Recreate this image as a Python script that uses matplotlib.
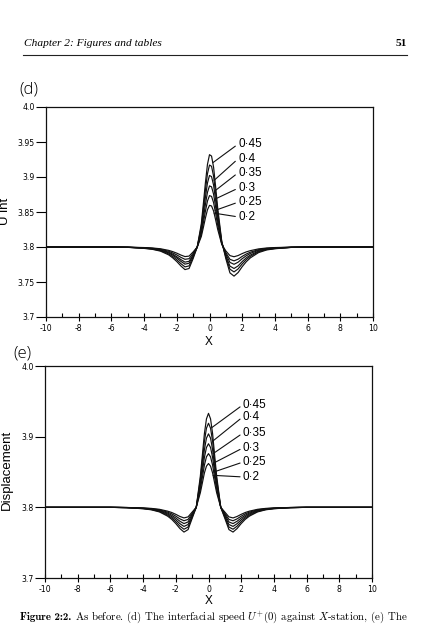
import matplotlib
matplotlib.use('Agg')
import matplotlib.pyplot as plt
import numpy as np

plt.rcParams['mathtext.fontset'] = 'cm'

# ---------------- data ----------------
x_knots = [-10, -6, -5, -4, -3.5, -3, -2.5, -2.25, -2, -1.75, -1.5, -1.25, -1, -0.75,
           -0.5, -0.375, -0.25, -0.125, 0, 0.125, 0.25, 0.375, 0.5,
           0.75, 1, 1.25, 1.5, 1.75, 2, 2.25, 2.5, 3, 3.5, 4, 5, 6, 10]

param_labels = ['0·2', '0·25', '0·3', '0·35', '0·4', '0·45']

# panel (d): U int
d_020 = [3.8, 3.8,
         3.7998, 3.7992, 3.7986, 3.7975, 3.7952, 3.7934, 3.7912, 3.7885, 3.7863, 3.7870, 3.7930, 3.8,
         3.8150, 3.8280, 3.8414, 3.8532, 3.8595, 3.8586, 3.8514, 3.8388, 3.8253,
         3.8036, 3.7944, 3.7877, 3.7861, 3.7878, 3.7906, 3.7930, 3.7948, 3.7973, 3.7986, 3.7992, 3.7998,
         3.8, 3.8]
d_025 = [3.8, 3.8,
         3.7997, 3.7989, 3.7982, 3.7968, 3.7939, 3.7915, 3.7887, 3.7852, 3.7824, 3.7833, 3.7910, 3.8,
         3.8185, 3.8345, 3.8511, 3.8656, 3.8734, 3.8723, 3.8634, 3.8479, 3.8312,
         3.8044, 3.7920, 3.7824, 3.7802, 3.7826, 3.7866, 3.7900, 3.7926, 3.7962, 3.7980, 3.7988, 3.7997,
         3.8, 3.8]
d_030 = [3.8, 3.8,
         3.7997, 3.7987, 3.7978, 3.7960, 3.7925, 3.7897, 3.7861, 3.7820, 3.7784, 3.7795, 3.7890, 3.8,
         3.8220, 3.8410, 3.8607, 3.8781, 3.8873, 3.8860, 3.8754, 3.8569, 3.8370,
         3.8053, 3.7900, 3.7780, 3.7753, 3.7783, 3.7833, 3.7875, 3.7908, 3.7953, 3.7975, 3.7985, 3.7996,
         3.8, 3.8]
d_035 = [3.8, 3.8,
         3.7996, 3.7985, 3.7975, 3.7955, 3.7915, 3.7883, 3.7843, 3.7795, 3.7755, 3.7768, 3.7875, 3.8,
         3.8258, 3.8480, 3.8711, 3.8914, 3.9022, 3.9006, 3.8883, 3.8666, 3.8434,
         3.8062, 3.7876, 3.7727, 3.7693, 3.7730, 3.7792, 3.7845, 3.7885, 3.7941, 3.7969, 3.7981, 3.7995,
         3.8, 3.8]
d_040 = [3.8, 3.8,
         3.7996, 3.7983, 3.7971, 3.7948, 3.7901, 3.7864, 3.7817, 3.7762, 3.7716, 3.7730, 3.7855, 3.8,
         3.8295, 3.8550, 3.8814, 3.9047, 3.9171, 3.9153, 3.9011, 3.8763, 3.8497,
         3.8071, 3.7856, 3.7683, 3.7644, 3.7687, 3.7759, 3.7820, 3.7867, 3.7932, 3.7964, 3.7978, 3.7995,
         3.8, 3.8]
d_045 = [3.8, 3.8,
         3.7995, 3.7980, 3.7967, 3.7941, 3.7888, 3.7845, 3.7792, 3.7729, 3.7677, 3.7693, 3.7835, 3.8,
         3.8333, 3.8620, 3.8918, 3.9180, 3.9319, 3.9299, 3.9140, 3.8861, 3.8560,
         3.8080, 3.7832, 3.7630, 3.7584, 3.7635, 3.7719, 3.7790, 3.7845, 3.7920, 3.7958, 3.7975, 3.7994,
         3.8, 3.8]

# panel (e): Displacement
e_020 = [3.8, 3.8,
         3.7998, 3.7991, 3.7985, 3.7972, 3.7946, 3.7927, 3.7901, 3.7871, 3.7850, 3.7865, 3.7933, 3.8,
         3.8205, 3.8345, 3.8487, 3.8583, 3.8620, 3.8583, 3.8487, 3.8345, 3.8205,
         3.8, 3.7933, 3.7865, 3.7850, 3.7871, 3.7901, 3.7927, 3.7946, 3.7972, 3.7985, 3.7991, 3.7998,
         3.8, 3.8]
e_025 = [3.8, 3.8,
         3.7997, 3.7989, 3.7981, 3.7965, 3.7932, 3.7908, 3.7875, 3.7837, 3.7810, 3.7829, 3.7915, 3.8,
         3.8252, 3.8423, 3.8597, 3.8715, 3.8760, 3.8715, 3.8597, 3.8423, 3.8252,
         3.8, 3.7915, 3.7829, 3.7810, 3.7837, 3.7875, 3.7908, 3.7932, 3.7965, 3.7981, 3.7989, 3.7997,
         3.8, 3.8]
e_030 = [3.8, 3.8,
         3.7997, 3.7987, 3.7977, 3.7957, 3.7918, 3.7888, 3.7849, 3.7803, 3.7770, 3.7793, 3.7897, 3.8,
         3.8298, 3.8500, 3.8707, 3.8847, 3.8900, 3.8847, 3.8707, 3.8500, 3.8298,
         3.8, 3.7897, 3.7793, 3.7770, 3.7803, 3.7849, 3.7888, 3.7918, 3.7957, 3.7977, 3.7987, 3.7997,
         3.8, 3.8]
e_035 = [3.8, 3.8,
         3.7996, 3.7985, 3.7973, 3.7950, 3.7904, 3.7869, 3.7823, 3.7769, 3.7730, 3.7757, 3.7879, 3.8,
         3.8344, 3.8578, 3.8817, 3.8979, 3.9040, 3.8979, 3.8817, 3.8578, 3.8344,
         3.8, 3.7879, 3.7757, 3.7730, 3.7769, 3.7823, 3.7869, 3.7904, 3.7950, 3.7973, 3.7985, 3.7996,
         3.8, 3.8]
e_040 = [3.8, 3.8,
         3.7996, 3.7982, 3.7969, 3.7942, 3.7889, 3.7849, 3.7796, 3.7734, 3.7690, 3.7721, 3.7861, 3.8,
         3.8394, 3.8662, 3.8935, 3.9120, 3.9190, 3.9120, 3.8935, 3.8662, 3.8394,
         3.8, 3.7861, 3.7721, 3.7690, 3.7734, 3.7796, 3.7849, 3.7889, 3.7942, 3.7969, 3.7982, 3.7996,
         3.8, 3.8]
e_045 = [3.8, 3.8,
         3.7995, 3.7980, 3.7965, 3.7935, 3.7875, 3.7830, 3.7770, 3.7700, 3.7650, 3.7685, 3.7843, 3.8,
         3.8440, 3.8739, 3.9045, 3.9252, 3.9330, 3.9252, 3.9045, 3.8739, 3.8440,
         3.8, 3.7843, 3.7685, 3.7650, 3.7700, 3.7770, 3.7830, 3.7875, 3.7935, 3.7965, 3.7980, 3.7995,
         3.8, 3.8]

# label placement (label y in data units, curve attach x)
d_label_y = [3.843, 3.864, 3.884, 3.906, 3.926, 3.947]
d_attach_x = [0.28, 0.34, 0.3, 0.3, 0.28, 0.2]
e_label_y = [3.843, 3.864, 3.884, 3.905, 3.928, 3.945]
e_attach_x = [0.28, 0.32, 0.3, 0.28, 0.25, 0.2]

x_ticks = [-10, -8, -6, -4, -2, 0, 2, 4, 6, 8, 10]
x_ticklabels = ['-10', '-8', '-6', '-4', '-2', '0', '2', '4', '6', '8', '10']
x_minor = [-9, -7, -5, -3, -1, 1, 3, 5, 7, 9]
d_yticks = [3.7, 3.75, 3.8, 3.85, 3.9, 3.95, 4.0]
d_yticklabels = ['3.7', '3.75', '3.8', '3.85', '3.9', '3.95', '4.0']
e_yticks = [3.7, 3.8, 3.9, 4.0]
e_yticklabels = ['3.7', '3.8', '3.9', '4.0']

# ---------------- figure ----------------
W, H = 423, 631
fig = plt.figure(figsize=(W / 100, H / 100), dpi=100)
fig.patch.set_facecolor('white')


def fx(px):
    return px / W


def fy(py):
    return 1 - py / H


ax1 = fig.add_axes([fx(46), fy(317), fx(373) - fx(46), fy(107) - fy(317)])
ax2 = fig.add_axes([fx(45), fy(578), fx(372) - fx(45), fy(366) - fy(578)])

tick_font = {'family': 'DejaVu Sans', 'size': 5.6}
label_font = ['Liberation Sans', 'DejaVu Sans']


def style_axis(ax, yticks, yticklabels):
    ax.set_xlim(-10, 10)
    ax.set_ylim(3.7, 4.0)
    for s in ax.spines.values():
        s.set_linewidth(0.9)
        s.set_color('#111111')
    ax.set_xticks(x_ticks)
    ax.set_xticklabels(x_ticklabels, fontdict=tick_font)
    ax.set_xticks(x_minor, minor=True)
    ax.set_yticks(yticks)
    ax.set_yticklabels(yticklabels, fontdict=tick_font)
    ax.tick_params(axis='x', which='major', direction='inout', length=6, width=0.8, pad=2)
    ax.tick_params(axis='x', which='minor', direction='in', length=3, width=0.8)
    ax.tick_params(axis='y', which='major', direction='out', length=7, width=0.8, pad=1)


def draw_panel(ax, series, label_y, attach_x, label_x):
    for s in series:
        ax.plot(x_knots, s, color='#111111', lw=0.85)
    for s, lab, ly, axx in zip(series, param_labels, label_y, attach_x):
        ay = np.interp(axx, x_knots, s)
        ax.annotate(lab, xy=(axx, ay), xytext=(label_x, ly),
                    ha='left', va='center', fontsize=8.5, family=label_font,
                    arrowprops=dict(arrowstyle='-', lw=0.8, color='#111111',
                                    shrinkA=0, shrinkB=0, relpos=(0, 0.5)))


draw_panel(ax1, [d_020, d_025, d_030, d_035, d_040, d_045], d_label_y, d_attach_x, 1.75)
draw_panel(ax2, [e_020, e_025, e_030, e_035, e_040, e_045], e_label_y, e_attach_x, 2.1)
style_axis(ax1, d_yticks, d_yticklabels)
style_axis(ax2, e_yticks, e_yticklabels)

# axis titles
fig.text(fx(209), fy(342), 'X', ha='center', va='center', fontsize=8.5, family=label_font)
fig.text(fx(209), fy(601), 'X', ha='center', va='center', fontsize=8.5, family=label_font)
fig.text(fx(5), fy(211), 'U int', rotation=90, ha='center', va='center', fontsize=9.5,
         family=label_font)
fig.text(fx(7), fy(470), 'Displacement', rotation=90, ha='center', va='center', fontsize=9.5,
         family=label_font)

# panel letters
fig.text(fx(29), fy(90), '(d)', ha='center', va='center', fontsize=12,
         family=['Open Sans', 'DejaVu Sans'], fontweight='light')
fig.text(fx(22), fy(353), '(e)', ha='center', va='center', fontsize=12,
         family=['Open Sans', 'DejaVu Sans'], fontweight='light')

# page header and caption
fig.text(fx(24), fy(43), 'Chapter 2: Figures and tables', ha='left', va='center', fontsize=8.2,
         family='Liberation Serif', style='italic')
fig.text(fx(407), fy(43), '51', ha='right', va='center', fontsize=8.2,
         family='Liberation Serif', fontweight='bold')
fig.add_artist(plt.Line2D([fx(23), fx(407)], [fy(55), fy(55)], color='#222222', lw=0.8))

renderer = fig.canvas.get_renderer()
cap_size = 8.0
cap_y = fy(620)
t1 = fig.text(fx(20), cap_y, 'Figure 2:2.', ha='left', va='baseline', fontsize=cap_size,
              family='cmb10')
b1 = t1.get_window_extent(renderer)
t2 = fig.text((b1.x1 + 4) / W, cap_y,
              r'As before. (d) The interfacial speed $U^{+}(0)$ against $X$-station, (e) The',
              ha='left', va='baseline', fontsize=cap_size, family='cmr10')
b2 = t2.get_window_extent(renderer)
# shrink/grow caption to span the same width as the printed one
scale = (408 - 20) / (b2.x1 - b1.x0)
cap_size *= scale
t1.set_fontsize(cap_size)
b1 = t1.get_window_extent(renderer)
t2.set_fontsize(cap_size)
t2.set_x((b1.x1 + 4 * scale) / W)

fig.savefig('out.png', dpi=100, facecolor='white')
